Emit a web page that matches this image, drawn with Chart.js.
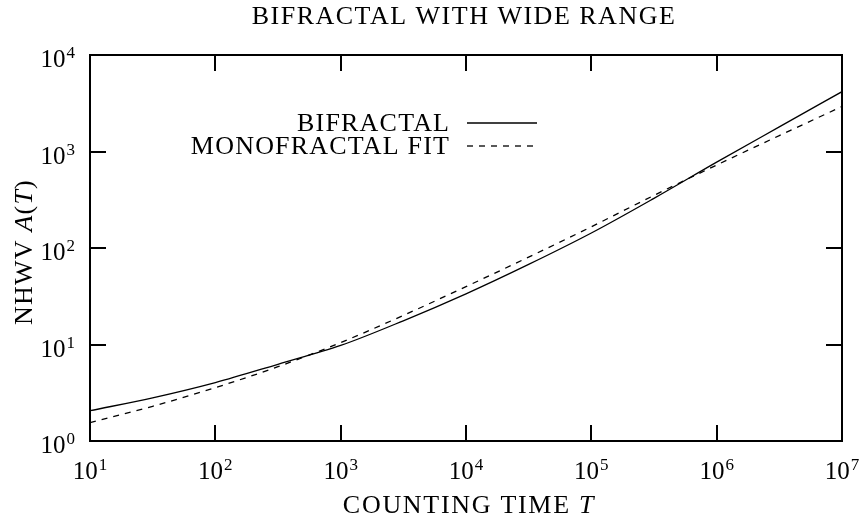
<!DOCTYPE html>
<html>
<head>
<meta charset="utf-8">
<script src="https://cdn.jsdelivr.net/npm/chart.js@4.4.1/dist/chart.umd.min.js"></script>
<style>
  html, body { margin: 0; padding: 0; background: #fff; }
  #wrap { width: 864px; height: 526px; }
</style>
</head>
<body>
<div id="wrap"><canvas id="nhwv" width="864" height="526"></canvas></div>
<script>
// counting times (half-decade steps) and the two curves
const countingTime = [1e1, 3.16e1, 1e2, 3.16e2, 1e3, 3.16e3, 1e4, 3.16e4, 1e5, 3.16e5, 1e6, 3.16e6, 1e7]
const bifractal = [2.06, 2.80, 4.03, 6.24, 9.77, 17.6, 33.5, 67.6, 143, 327, 776, 1800, 4170]
const monofractalFit = [1.55, 2.29, 3.57, 5.89, 10.47, 20.0, 39.8, 80.4, 166, 351, 724, 1462, 2924]

// decade tick labels, as powers of ten
const xTickExponents = [1, 2, 3, 4, 5, 6, 7]
const yTickExponents = [0, 1, 2, 3, 4]

const seriesLabels = ['BIFRACTAL', 'MONOFRACTAL FIT']

const SERIF = '"Liberation Serif", "Times New Roman", serif'

function toPoints(values) {
  return countingTime.map((t, i) => ({ x: t, y: values[i] }))
}

// "10" followed by a raised exponent
function drawPower(ctx, exp, x, baseline, align) {
  ctx.letterSpacing = '0px'
  ctx.font = '25px ' + SERIF
  const wBase = ctx.measureText('10').width
  ctx.font = '17px ' + SERIF
  const wExp = ctx.measureText(String(exp)).width
  const total = wBase + 1 + wExp
  let left = x
  if (align === 'center') left = x - total / 2
  if (align === 'right') left = x - total
  ctx.textAlign = 'left'
  ctx.font = '25px ' + SERIF
  ctx.fillText('10', left, baseline)
  ctx.font = '17px ' + SERIF
  ctx.fillText(String(exp), left + wBase + 1, baseline - 9)
}

// draws a run of [text, italic] pieces starting at x
function drawRuns(ctx, runs, x, y, size, spacing) {
  ctx.textAlign = 'left'
  ctx.letterSpacing = spacing + 'px'
  let cx = x
  for (const [text, italic] of runs) {
    ctx.font = (italic ? 'italic ' : '') + size + 'px ' + SERIF
    ctx.fillText(text, cx, y)
    cx += ctx.measureText(text).width
  }
  return cx - x
}

function runsWidth(ctx, runs, size, spacing) {
  ctx.letterSpacing = spacing + 'px'
  let w = 0
  for (const [text, italic] of runs) {
    ctx.font = (italic ? 'italic ' : '') + size + 'px ' + SERIF
    w += ctx.measureText(text).width
  }
  return w
}

const gnuplotFrame = {
  id: 'gnuplotFrame',
  afterDraw(chart) {
    const ctx = chart.ctx
    const area = chart.chartArea
    const xs = chart.scales.x
    const ys = chart.scales.y
    const tick = 16

    ctx.save()
    ctx.fillStyle = '#000'
    ctx.strokeStyle = '#000'
    ctx.textBaseline = 'alphabetic'

    // border and mirrored inward ticks
    ctx.lineWidth = 2
    ctx.strokeRect(area.left, area.top, area.right - area.left, area.bottom - area.top)
    ctx.beginPath()
    xTickExponents.forEach(e => {
      const px = Math.round(xs.getPixelForValue(10 ** e))
      ctx.moveTo(px, area.bottom); ctx.lineTo(px, area.bottom - tick)
      ctx.moveTo(px, area.top); ctx.lineTo(px, area.top + tick)
    })
    yTickExponents.forEach(e => {
      const py = Math.round(ys.getPixelForValue(10 ** e))
      ctx.moveTo(area.left, py); ctx.lineTo(area.left + tick, py)
      ctx.moveTo(area.right, py); ctx.lineTo(area.right - tick, py)
    })
    ctx.stroke()

    // tick labels
    xTickExponents.forEach(e => {
      drawPower(ctx, e, xs.getPixelForValue(10 ** e), area.bottom + 38, 'center')
    })
    yTickExponents.forEach(e => {
      drawPower(ctx, e, area.left - 15, ys.getPixelForValue(10 ** e) + 12, 'right')
    })

    // title
    const title = [['BIFRACTAL WITH WIDE RANGE', false]]
    const tw = runsWidth(ctx, title, 26, 1.5)
    drawRuns(ctx, title, 464 - tw / 2, 24, 26, 1.5)

    // x axis title
    const xTitle = [['COUNTING TIME ', false], ['T', true]]
    const xw = runsWidth(ctx, xTitle, 26, 1.7)
    drawRuns(ctx, xTitle, 469 - xw / 2, 513, 26, 1.7)

    // y axis title, rotated
    const yTitle = [['NHWV ', false], ['A', true], ['(', false], ['T', true], [')', false]]
    const yw = runsWidth(ctx, yTitle, 26, 1.2)
    ctx.save()
    ctx.translate(32, 252)
    ctx.rotate(-Math.PI / 2)
    drawRuns(ctx, yTitle, -yw / 2, 0, 26, 1.2)
    ctx.restore()

    // key: label on the left, line sample on the right
    const keyRight = 449
    const baselines = [131, 154]
    chart.data.datasets.forEach((ds, i) => {
      const runs = [[ds.label, false]]
      const w = runsWidth(ctx, runs, 26, 1.2)
      drawRuns(ctx, runs, keyRight - w + 1.2, baselines[i], 26, 1.2)
      ctx.letterSpacing = '0px'
      ctx.lineWidth = ds.borderWidth
      ctx.setLineDash(ds.borderDash || [])
      ctx.beginPath()
      ctx.moveTo(467, baselines[i] - 8)
      ctx.lineTo(537, baselines[i] - 8)
      ctx.stroke()
    })
    ctx.setLineDash([])
    ctx.restore()
  }
}

new Chart(document.getElementById('nhwv'), {
  type: 'line',
  data: {
    datasets: [
      {
        label: seriesLabels[0],
        data: toPoints(bifractal),
        borderColor: '#000',
        borderWidth: 1.3,
        pointRadius: 0,
        cubicInterpolationMode: 'monotone'
      },
      {
        label: seriesLabels[1],
        data: toPoints(monofractalFit),
        borderColor: '#000',
        borderWidth: 1.3,
        borderDash: [6, 6],
        pointRadius: 0,
        cubicInterpolationMode: 'monotone'
      }
    ]
  },
  options: {
    responsive: false,
    animation: false,
    layout: { padding: { left: 90, right: 22, top: 55, bottom: 85 } },
    scales: {
      x: { type: 'logarithmic', min: 10, max: 1e7, display: false },
      y: { type: 'logarithmic', min: 1, max: 1e4, display: false }
    },
    plugins: {
      legend: { display: false },
      tooltip: { enabled: false }
    }
  },
  plugins: [gnuplotFrame]
})
</script>
</body>
</html>
